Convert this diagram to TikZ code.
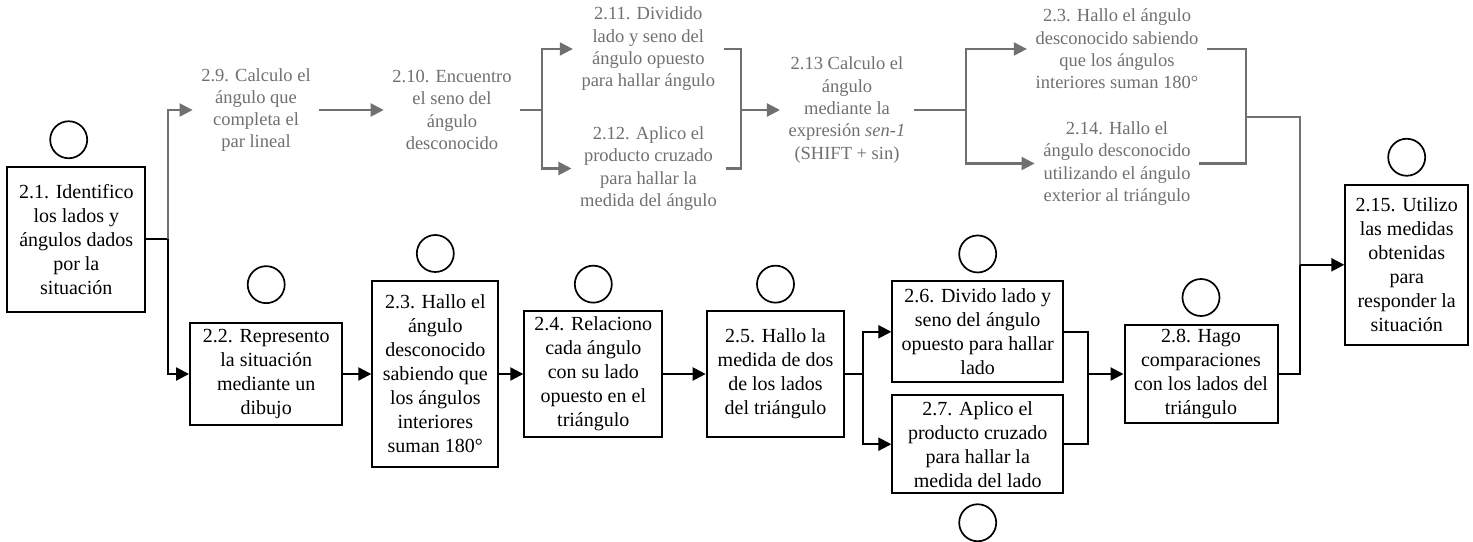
\documentclass[tikz,border=0pt]{standalone}
\usepackage{fontspec}
\setmainfont{Liberation Serif}
\usetikzlibrary{positioning,arrows.meta}
\definecolor{faintgrey}{RGB}{112,112,112}

\begin{document}
\begin{tikzpicture}[x=1pt,y=-1pt,
	box/.style={rectangle,draw,line width=2pt,align=center,inner sep=0pt,font=\fontsize{20}{24}\selectfont},
	ring/.style={circle,draw,line width=1.7pt,minimum size=37pt,inner sep=0pt},
	faint/.style={align=center,text=faintgrey,inner xsep=8.5pt,inner ysep=2pt,font=\fontsize{18.5}{22.3}\selectfont},
	link/.style={line width=2.1pt},
	flow/.style={link,-{Triangle[length=13pt,width=13pt]}},
	glink/.style={link,draw=faintgrey},
	gflow/.style={glink,-{Triangle[length=13pt,width=13pt]}}]
	\useasboundingbox (0,0) rectangle (1473,541);

	\node (b21)[box,minimum width=138pt,minimum height=145.6pt] at (76.3,239.4) {2.1. Identifico\\los lados y\\ángulos dados\\por la\\situación};
	\node (b22)[box,minimum width=152.3pt,minimum height=102pt] at (266.2,374) {2.2. Represento\\la situación\\mediante un\\dibujo};
	\node (b23)[box,minimum width=126pt,minimum height=186.3pt] at (435.3,374) {2.3. Hallo el\\ángulo\\desconocido\\sabiendo que\\los ángulos\\interiores\\suman 180°};
	\node (b24)[box,minimum width=138pt,minimum height=126pt] at (593.3,374) {2.4. Relaciono\\cada ángulo\\con su lado\\opuesto en el\\triángulo};
	\node (b25)[box,minimum width=137.6pt,minimum height=126pt] at (775.5,374) {2.5. Hallo la\\medida de dos\\de los lados\\del triángulo};
	\node (b26)[box,minimum width=170.7pt,minimum height=101pt] at (977.7,331.8) {2.6. Divido lado y\\seno del ángulo\\opuesto para hallar\\lado};
	\node (b27)[box,minimum width=170.7pt,minimum height=98.4pt] at (977.7,444.2) {2.7. Aplico el\\producto cruzado\\para hallar la\\medida del lado};
	\node (b28)[box,minimum width=153pt,minimum height=98.3pt] at (1201,374) {2.8. Hago\\comparaciones\\con los lados del\\triángulo};
	\node (b215)[box,minimum width=122.7pt,minimum height=160.4pt] at (1406.7,264.8) {2.15. Utilizo\\las medidas\\obtenidas\\para\\responder la\\situación};

	\node (c21)[ring,above=6.5pt of b21,xshift=-7.6pt]{};
	\node (c22)[ring,above=18pt of b22]{};
	\node (c23)[ring,above=7pt of b23]{};
	\node (c24)[ring,above=6.5pt of b24]{};
	\node (c25)[ring,above=6.5pt of b25]{};
	\node (c26)[ring,above=7pt of b26]{};
	\node (c27)[ring,below=9pt of b27]{};
	\node (c28)[ring,above=7pt of b28]{};
	\node (c215)[ring,above=7pt of b215]{};

	\node (t29)[faint] at (256,110) {2.9. Calculo el\\ángulo que\\completa el\\par lineal};
	\node (t210)[faint] at (452,110) {2.10. Encuentro\\el seno del\\ángulo\\desconocido};
	\node (t211)[faint] at (648.3,49) {2.11. Dividido\\lado y seno del\\ángulo opuesto\\para hallar ángulo};
	\node (t212)[faint] at (648.5,168.5) {2.12. Aplico el\\producto cruzado\\para hallar la\\medida del ángulo};
	\node (t213)[faint] at (847,110) {2.13 Calculo el\\ángulo\\mediante la\\expresión \textit{sen-1}\\(SHIFT + sin)};
	\node (t23g)[faint] at (1117,49) {2.3. Hallo el ángulo\\desconocido sabiendo\\que los ángulos\\interiores suman 180°};
	\node (t214)[faint] at (1117,163.5) {2.14. Hallo el\\ángulo desconocido\\utilizando el ángulo\\exterior al triángulo};

	\coordinate (j1) at (167.7,239.4);
	\coordinate (j2) at (541.7,110);
	\coordinate (j3) at (740.7,110);
	\coordinate (j4) at (965.7,110);
	\coordinate (j5) at (1246.3,117.3);
	\coordinate (j6) at (1300,264.8);
	\coordinate (j7) at (863.3,374);
	\coordinate (j8) at (1088,374);

	\draw[link] (b21.east) -- (j1);
	\draw[gflow] (j1) |- (t29.west);
	\draw[flow] (j1) |- (b22.west);
	\draw[gflow] (t29.east) -- (t210.west);
	\draw[glink] (t210.east) -- (j2);
	\draw[gflow] (j2) |- (t211.west);
	\draw[gflow] (j2) |- (t212.west);
	\draw[glink] (t211.east) -| (j3);
	\draw[glink] (t212.east) -| (j3);
	\draw[gflow] (j3) -- (t213.west);
	\draw[glink] (t213.east) -- (j4);
	\draw[gflow] (j4) |- (t23g.west);
	\draw[gflow] (j4) |- (t214.west);
	\draw[glink] (t23g.east) -| (j5);
	\draw[glink] (t214.east) -| (j5);
	\draw[glink] (j5) -| (j6);

	\draw[flow] (b22) -- (b23);
	\draw[flow] (b23) -- (b24);
	\draw[flow] (b24) -- (b25);
	\draw[link] (b25.east) -- (j7);
	\draw[flow] (j7) |- (b26.west);
	\draw[flow] (j7) |- (b27.west);
	\draw[link] (b26.east) -| (j8);
	\draw[link] (b27.east) -| (j8);
	\draw[flow] (j8) -- (b28.west);
	\draw[link] (b28.east) -| (j6);
	\draw[flow] (j6) -- (b215.west);
\end{tikzpicture}
\end{document}
